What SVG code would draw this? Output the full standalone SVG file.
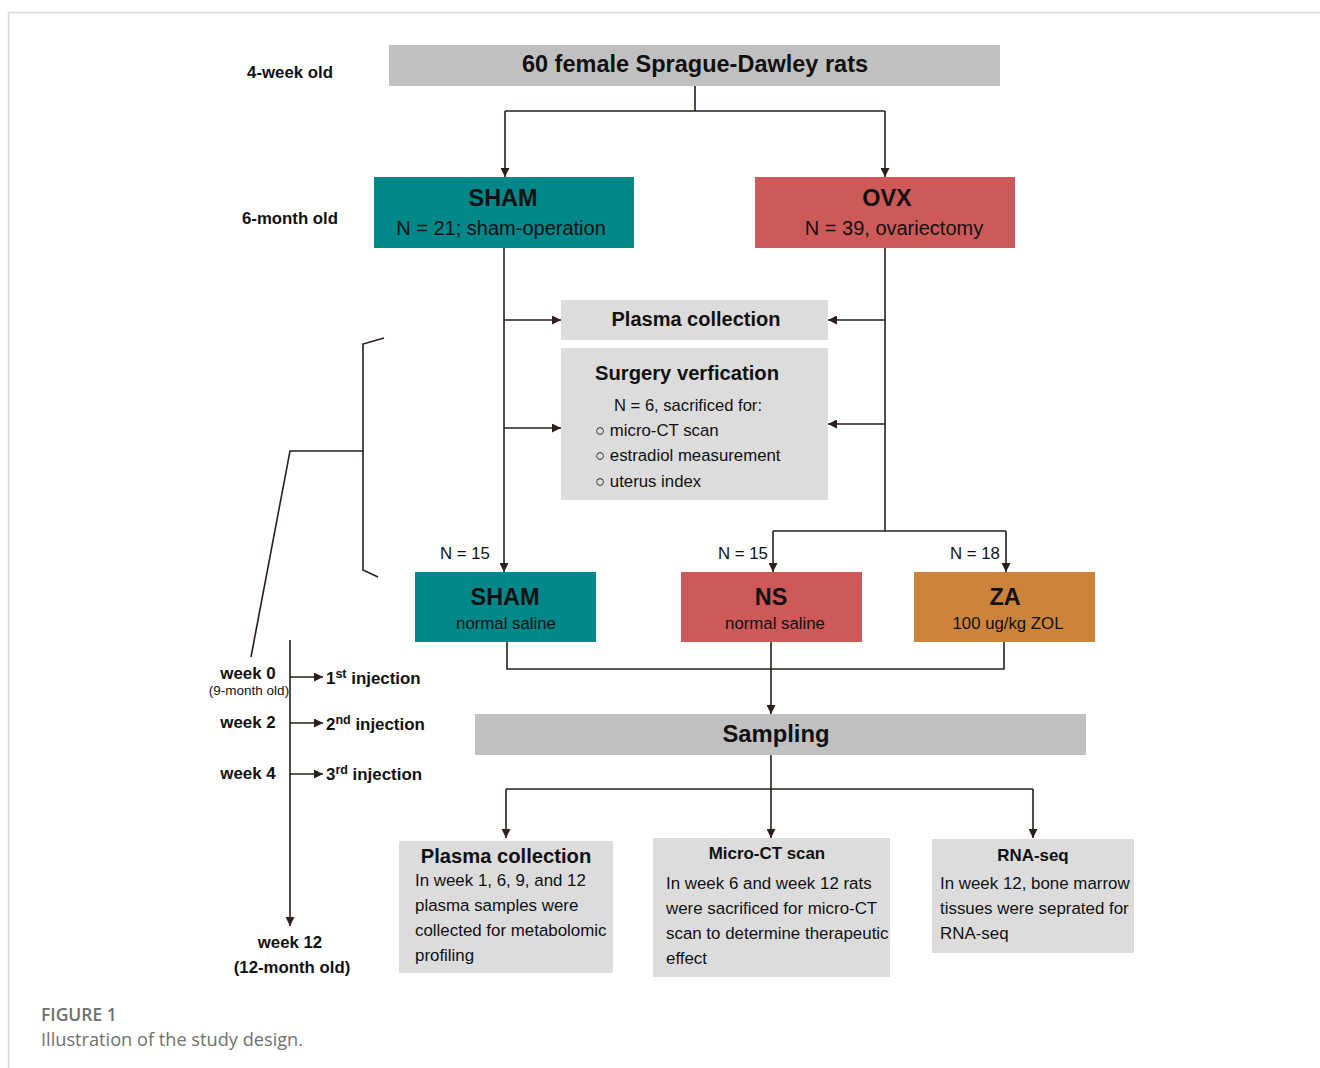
<svg xmlns="http://www.w3.org/2000/svg" width="1320" height="1068" viewBox="0 0 1320 1068">
<style>
text{font-family:"Liberation Sans",Arial,sans-serif;fill:#111}
.b{font-weight:bold}
.c{text-anchor:middle}
.ln{stroke:#2a1f1c;stroke-width:1.6;fill:none}
.g1{fill:#c0c0c0}
.g2{fill:#dcdcdc}
.cap{font-family:"Open Sans",Lato,sans-serif;fill:#707070}
</style>
<defs>
<marker id="ah" viewBox="0 0 10 10" refX="10" refY="5" markerWidth="9" markerHeight="9" markerUnits="userSpaceOnUse" orient="auto">
<path d="M0,0 L10,5 L0,10 z" fill="#2a1f1c"/>
</marker>
</defs>
<rect width="1320" height="1068" fill="#fff"/>
<path d="M8.5,1068 V12.5 H1320" stroke="#d8d8d8" stroke-width="1.5" fill="none"/>

<g id="labels">
<text x="290" y="78" class="b c" font-size="16.8">4-week old</text>
<text x="290" y="224" class="b c" font-size="16.8">6-month old</text>
</g>

<g id="n-rats"><rect x="389" y="45" width="611" height="41" class="g1"/><text x="695" y="72" class="b c" font-size="23.5">60 female Sprague-Dawley rats</text></g>
<g id="n-sham"><rect x="374" y="177" width="260" height="71" fill="#00878a"/><text x="503" y="206" class="b c" font-size="23.4">SHAM</text><text x="501" y="235" class="c" font-size="20">N = 21; sham-operation</text></g>
<g id="n-ovx"><rect x="755" y="177" width="260" height="71" fill="#cd5a59"/><text x="887" y="206" class="b c" font-size="23.4">OVX</text><text x="894" y="235" class="c" font-size="20">N = 39, ovariectomy</text></g>
<g id="n-plasma1"><rect x="561" y="300" width="267" height="40" class="g2"/><text x="696" y="326" class="b c" font-size="20">Plasma collection</text></g>
<g id="n-surgery"><rect x="561" y="348" width="267" height="152" class="g2"/><text x="687" y="380" class="b c" font-size="20.2">Surgery verfication</text>
<text x="688" y="411" class="c" font-size="16.6">N = 6, sacrificed for:</text>
<text x="595" y="436" font-size="16.8">○ micro-CT scan</text>
<text x="595" y="461" font-size="16.8">○ estradiol measurement</text>
<text x="595" y="487" font-size="16.8">○ uterus index</text></g>

<g id="n-sham2"><rect x="415" y="572" width="181" height="70" fill="#00878a"/><text x="505" y="605" class="b c" font-size="23.4">SHAM</text><text x="506" y="629" class="c" font-size="16.8">normal saline</text></g>
<g id="n-ns"><rect x="681" y="572" width="181" height="70" fill="#cd5a59"/><text x="771" y="605" class="b c" font-size="23.4">NS</text><text x="775" y="629" class="c" font-size="16.8">normal saline</text></g>
<g id="n-za"><rect x="914" y="572" width="181" height="70" fill="#cc843c"/><text x="1005" y="605" class="b c" font-size="23.4">ZA</text><text x="1008" y="629" class="c" font-size="16.8">100 ug/kg ZOL</text></g>

<g id="n-sampling"><rect x="475" y="714" width="611" height="41" class="g1"/><text x="776" y="742" class="b c" font-size="23.8">Sampling</text></g>

<g id="n-plasma2"><rect x="399" y="841" width="214" height="132" class="g2"/><text x="506" y="863" class="b c" font-size="20.2">Plasma collection</text>
<text x="415" y="886" font-size="16.9">In week 1, 6, 9, and 12</text>
<text x="415" y="911" font-size="16.9">plasma samples were</text>
<text x="415" y="936" font-size="16.9">collected for metabolomic</text>
<text x="415" y="961" font-size="16.9">profiling</text></g>
<g id="n-microct"><rect x="653" y="838" width="237" height="139" class="g2"/><text x="767" y="859" class="b c" font-size="16.9">Micro-CT scan</text>
<text x="666" y="889" font-size="16.9">In week 6 and week 12 rats</text>
<text x="666" y="914" font-size="16.9">were sacrificed for micro-CT</text>
<text x="666" y="939" font-size="16.9">scan to determine therapeutic</text>
<text x="666" y="964" font-size="16.9">effect</text></g>
<g id="n-rnaseq"><rect x="932" y="839" width="202" height="114" class="g2"/><text x="1033" y="861" class="b c" font-size="16.9">RNA-seq</text>
<text x="940" y="889" font-size="16.9">In week 12, bone marrow</text>
<text x="940" y="914" font-size="16.9">tissues were seprated for</text>
<text x="940" y="939" font-size="16.9">RNA-seq</text></g>

<g id="n-labels">
<text x="465" y="559" class="c" font-size="16.8">N = 15</text>
<text x="743" y="559" class="c" font-size="16.8">N = 15</text>
<text x="975" y="559" class="c" font-size="16.8">N = 18</text>
</g>

<g id="timeline">
<text x="248" y="679" class="b c" font-size="16.9">week 0</text>
<text x="249" y="695" class="c" font-size="13.5">(9-month old)</text>
<text x="248" y="728" class="b c" font-size="16.9">week 2</text>
<text x="248" y="779" class="b c" font-size="16.9">week 4</text>
<text x="290" y="948" class="b c" font-size="16.8">week 12</text>
<text x="292" y="973" class="b c" font-size="16.8">(12-month old)</text>
<text x="326" y="684" class="b" font-size="16.9">1<tspan font-size="12.5" dy="-6">st</tspan><tspan dy="6"> injection</tspan></text>
<text x="326" y="730" class="b" font-size="16.9">2<tspan font-size="12.5" dy="-6">nd</tspan><tspan dy="6"> injection</tspan></text>
<text x="326" y="780" class="b" font-size="16.9">3<tspan font-size="12.5" dy="-6">rd</tspan><tspan dy="6"> injection</tspan></text>
</g>

<g id="connectors">
<path class="ln" d="M695,86 V111 M505,111 H885"/>
<path class="ln" d="M505,111 V177" marker-end="url(#ah)"/>
<path class="ln" d="M885,111 V177" marker-end="url(#ah)"/>
<path class="ln" d="M504,248 V572" marker-end="url(#ah)"/>
<path class="ln" d="M885,248 V531"/>
<path class="ln" d="M504,320 H561" marker-end="url(#ah)"/>
<path class="ln" d="M504,428 H561" marker-end="url(#ah)"/>
<path class="ln" d="M885,320 H828" marker-end="url(#ah)"/>
<path class="ln" d="M885,424 H828" marker-end="url(#ah)"/>
<path class="ln" d="M773,531 H1006"/>
<path class="ln" d="M773,531 V572" marker-end="url(#ah)"/>
<path class="ln" d="M1006,531 V572" marker-end="url(#ah)"/>
<path class="ln" d="M507,642 V669 H1004 V642"/>
<path class="ln" d="M771,642 V714" marker-end="url(#ah)"/>
<path class="ln" d="M771,755 V838" marker-end="url(#ah)"/>
<path class="ln" d="M506,789 H1033"/>
<path class="ln" d="M506,789 V838" marker-end="url(#ah)"/>
<path class="ln" d="M1033,789 V838" marker-end="url(#ah)"/>
<path class="ln" d="M384,338 L363,344 V570 L378,577 M363,451 H290 L251,657"/>
<path class="ln" d="M290,640 V926" marker-end="url(#ah)"/>
<path class="ln" d="M290,677 H323" marker-end="url(#ah)"/>
<path class="ln" d="M290,723 H323" marker-end="url(#ah)"/>
<path class="ln" d="M290,774 H323" marker-end="url(#ah)"/>
</g>

<g id="caption">
<text x="41" y="1021" class="cap" font-size="17.5" font-weight="600">FIGURE 1</text>
<text x="41" y="1046" class="cap" font-size="18.2">Illustration of the study design.</text>
</g>
</svg>
